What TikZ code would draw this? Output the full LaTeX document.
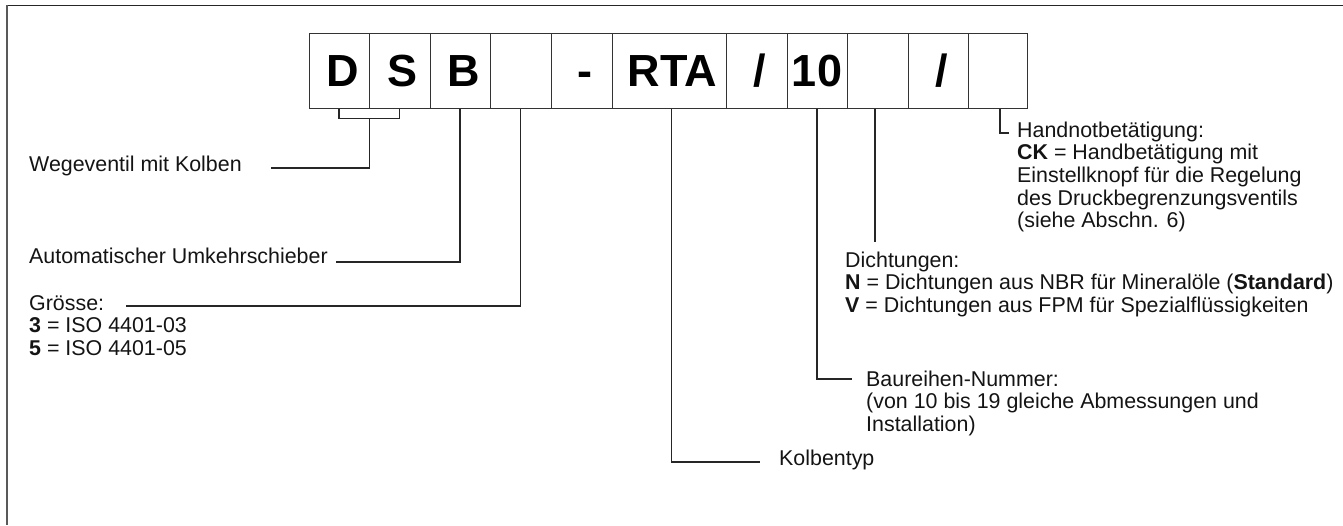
\documentclass[tikz,border=0pt]{standalone}
\usepackage{fontspec}
\setmainfont{Liberation Sans}
\usetikzlibrary{calc}

\tikzset{
  frameline/.style={line width=1.6pt, draw=black!85},
  cell/.style={draw=black!80, line width=1pt, inner sep=0pt, minimum height=75pt,
    text height=32.2pt, text depth=0pt,
    font=\fontsize{45}{50}\selectfont\bfseries},
  nudge/.style={execute at begin node=\hspace*{7pt}},
  conn/.style={draw=black!85, line width=1.1pt},
  lbl/.style={anchor=base west, inner sep=0pt, align=left,
    font=\fontsize{21.4}{22.7}\selectfont, text=black!92}
}

\begin{document}
\begin{tikzpicture}[x=1pt,y=-1pt]
\useasboundingbox (0,0) rectangle (1343,525);

% outer frame (top and left edges)
\draw[frameline] (7,5.5) -- (1343,5.5);
\draw[frameline, draw=black!65, line width=2pt] (7,5) -- (7,525);

% code cells
\node[cell, nudge, minimum width=60pt]  (cD)   at (339,70.5)   {D};
\node[cell, nudge, minimum width=61pt]  (cS)   at (399.5,70.5) {S};
\node[cell, nudge, minimum width=60pt]  (cB)   at (460,70.5)   {B};
\node[cell, minimum width=61pt]  (cSz)  at (520.5,70.5) {};
\node[cell, nudge, minimum width=61pt]  (cDsh) at (581.5,70.5) {-};
\node[cell, nudge, minimum width=114pt] (cRTA) at (669,70.5)   {RTA};
\node[cell, nudge, minimum width=61pt]  (cSl1) at (756.5,70.5) {/};
\node[cell, minimum width=60pt]  (cNum) at (817,70.5)   {10};
\node[cell, minimum width=61pt]  (cSeal) at (877.5,70.5) {};
\node[cell, nudge, minimum width=60pt]  (cSl2) at (938,70.5)   {/};
\node[cell, minimum width=59pt]  (cOpt) at (997.5,70.5) {};

% labels (base west = baseline of the last line)
\node[lbl] (lWeg)  at (29,171)  {Wegeventil mit Kolben};
\node[lbl] (lAuto) at (29,263)  {Automatischer Umkehrschieber};
\node[lbl] (lGr)   at (29,355.4) {Grösse:\\\textbf{3} = ISO 4401-03\\\textbf{5} = ISO 4401-05};
\node[lbl] (lHand) at (1017,227.8) {Handnotbetätigung:\\\textbf{CK} = Handbetätigung mit\\Einstellknopf für die Regelung\\des Druckbegrenzungsventils\\(siehe Abschn. 6)};
\node[lbl] (lDi)   at (845,312.4) {Dichtungen:\\\textbf{N} = Dichtungen aus NBR für Mineralöle (\textbf{Standard})\\\textbf{V} = Dichtungen aus FPM für Spezialflüssigkeiten};
\node[lbl] (lBau)  at (866,431.4) {Baureihen-Nummer:\\(von 10 bis 19 gleiche Abmessungen und\\Installation)};
\node[lbl] (lKol)  at (779,465) {Kolbentyp};

% free ends of the leader lines
\coordinate (eWeg)  at (271,168);
\coordinate (eAuto) at (336,262);
\coordinate (eGr)   at (126,306);
\coordinate (eKol)  at (760,462);
\coordinate (eBau)  at (852,379);
\coordinate (eDi)   at (875,242);
\coordinate (eHand) at (1009,133);

% leader lines
\draw[conn] (cD.south) -- ++(0,10) coordinate (dsL) -| (cS.south);
\coordinate (dsM) at ($(dsL)!0.5!(dsL -| cS.south)$);
\draw[conn] (dsM) |- (eWeg);
\draw[conn] (cB.south) |- (eAuto);
\draw[conn] (cSz.south) |- (eGr);
\draw[conn] ([xshift=2.5pt]cRTA.south) |- (eKol);
\draw[conn] (cNum.south) |- (eBau);
\draw[conn] (cSeal.south -| eDi) -- (eDi);
\draw[conn] (cOpt.south -| 1000,0) |- (eHand);
\end{tikzpicture}
\end{document}
